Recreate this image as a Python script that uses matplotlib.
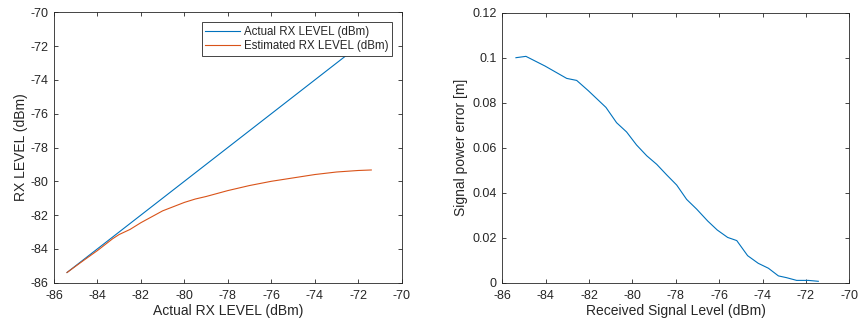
import matplotlib
matplotlib.use("Agg")
import matplotlib.pyplot as plt
import numpy as np

plt.rcParams['font.family'] = ['Liberation Sans', 'DejaVu Sans']
plt.rcParams['font.size'] = 9
plt.rcParams['axes.unicode_minus'] = False

#%% data
actual_rx = [-85.4, -71.4]
est_x = [-85.4, -84.6, -84.0, -83.6, -83.3, -83.0, -82.5, -82.0, -81.5, -81.0,
         -80.5, -80.0, -79.5, -79.0, -78.0, -77.0, -76.0, -75.0, -74.0, -73.0,
         -72.0, -71.4]
est_y = [-85.4, -84.65, -84.1, -83.7, -83.4, -83.15, -82.85, -82.45, -82.1, -81.75,
         -81.5, -81.25, -81.05, -80.9, -80.55, -80.25, -80.0, -79.8, -79.6, -79.45,
         -79.36, -79.33]

err_x = [-85.37, -84.91, -84.03, -83.03, -82.57, -82.03, -81.22, -80.73, -80.27,
         -79.81, -79.34, -78.88, -78.42, -77.96, -77.50, -77.04, -76.53, -76.09,
         -75.61, -75.19, -74.69, -74.20, -73.73, -73.27, -72.89, -72.43, -71.89,
         -71.43]
err_y = [0.1000, 0.1006, 0.0963, 0.0908, 0.0899, 0.0853, 0.0779, 0.0711, 0.0670,
         0.0612, 0.0564, 0.0526, 0.0479, 0.0434, 0.0370, 0.0327, 0.0274, 0.0234,
         0.0201, 0.0187, 0.0120, 0.0086, 0.0064, 0.0030, 0.0022, 0.0010, 0.0010,
         0.0006]

blue = '#0072BD'
orange = '#D95319'
axcol = '#262626'

fig = plt.figure(figsize=(8.58, 3.26), dpi=100)
ax1 = fig.add_axes([0.0629, 0.133, 0.4053, 0.829])
ax2 = fig.add_axes([0.5854, 0.133, 0.4045, 0.828])

def matlab_style(ax):
    ax.tick_params(direction='in', top=True, right=True, length=3, width=0.6,
                   colors=axcol, labelsize=9)
    ax.tick_params(axis='x', pad=5)
    ax.tick_params(axis='y', pad=4)
    for s in ax.spines.values():
        s.set_color(axcol)
        s.set_linewidth(0.6)

#%% left panel
ax1.plot(actual_rx, actual_rx, color=blue, lw=0.8, label='Actual RX LEVEL (dBm)')
ax1.plot(est_x, est_y, color=orange, lw=0.8, label='Estimated RX LEVEL (dBm)')
ax1.set_xlim(-86, -70)
ax1.set_ylim(-86, -70)
ax1.set_xticks(np.arange(-86, -69, 2))
ax1.set_yticks(np.arange(-86, -69, 2))
ax1.set_xlabel('Actual RX LEVEL (dBm)', color=axcol, fontsize=10, labelpad=2)
ax1.set_ylabel('RX LEVEL (dBm)', color=axcol, fontsize=10, labelpad=2)
matlab_style(ax1)
leg = ax1.legend(loc='upper right', bbox_to_anchor=(0.973, 0.964), fontsize=8.3,
                 frameon=True, fancybox=False, framealpha=1, edgecolor='#262626',
                 handlelength=3.0, handletextpad=0.4, borderpad=0.3, labelspacing=0.25,
                 borderaxespad=0)
leg.get_frame().set_linewidth(0.6)
for t in leg.get_texts():
    t.set_color(axcol)

#%% right panel
ax2.plot(err_x, err_y, color=blue, lw=0.8)
ax2.set_xlim(-86, -70)
ax2.set_ylim(0, 0.12)
ax2.set_xticks(np.arange(-86, -69, 2))
ax2.set_yticks([0, 0.02, 0.04, 0.06, 0.08, 0.1, 0.12])
ax2.set_yticklabels(['0', '0.02', '0.04', '0.06', '0.08', '0.1', '0.12'])
ax2.set_xlabel('Received Signal Level (dBm)', color=axcol, fontsize=10, labelpad=2)
ax2.set_ylabel('Signal power error [m]', color=axcol, fontsize=10, labelpad=3)
matlab_style(ax2)

plt.savefig('out.png', dpi=100)
